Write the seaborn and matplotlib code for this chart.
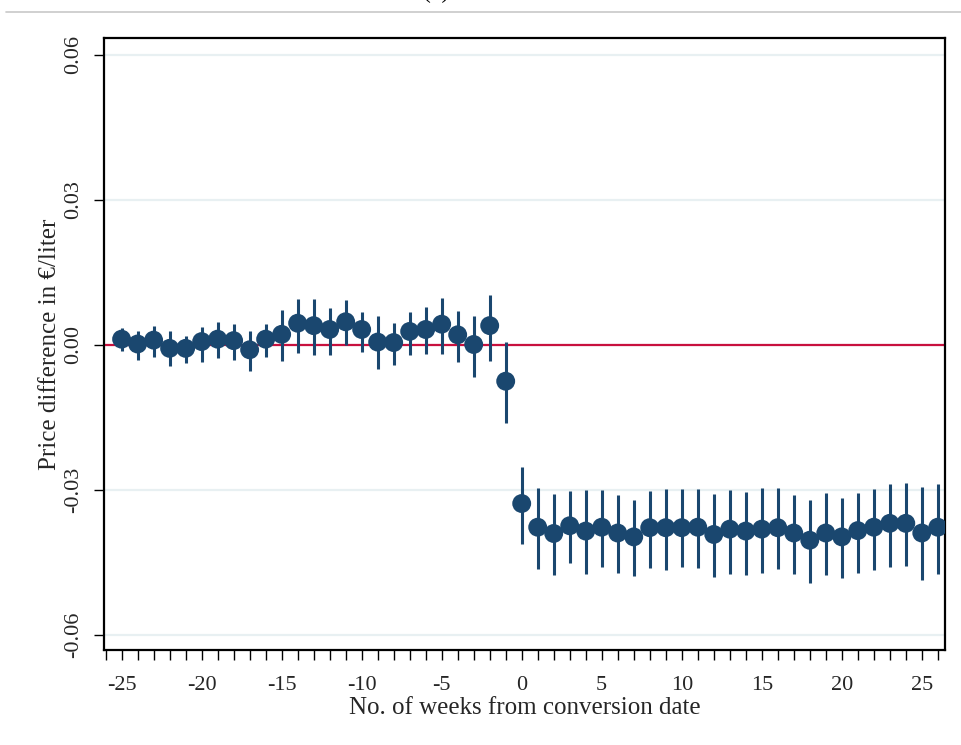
import numpy as np
import pandas as pd
import matplotlib
matplotlib.use("Agg")
import matplotlib.pyplot as plt
import seaborn as sns
from matplotlib.lines import Line2D

weeks = list(range(-25, 27))
estimate = [0.0012, 0.0002, 0.0010, -0.0007, -0.0007, 0.0007, 0.0012, 0.0009, -0.0010, 0.0012,
            0.0022, 0.0045, 0.0040, 0.0032, 0.0048, 0.0032, 0.0006, 0.0005, 0.0028, 0.0032,
            0.0043, 0.0021, 0.0001, 0.0040, -0.0075,
            -0.0328, -0.0377, -0.0390, -0.0374, -0.0385, -0.0377, -0.0389, -0.0397, -0.0378, -0.0378,
            -0.0378, -0.0377, -0.0392, -0.0381, -0.0385, -0.0381, -0.0378, -0.0389, -0.0404, -0.0389,
            -0.0397, -0.0384, -0.0377, -0.0369, -0.0369, -0.0389, -0.0377]
ci_upper = [0.0035, 0.0028, 0.0040, 0.0028, 0.0019, 0.0038, 0.0048, 0.0043, 0.0028, 0.0043,
            0.0072, 0.0095, 0.0095, 0.0076, 0.0092, 0.0069, 0.0059, 0.0045, 0.0068, 0.0079,
            0.0097, 0.0071, 0.0059, 0.0103, 0.0007,
            -0.0253, -0.0295, -0.0308, -0.0302, -0.0299, -0.0299, -0.0311, -0.0321, -0.0302, -0.0297,
            -0.0298, -0.0298, -0.0308, -0.0300, -0.0304, -0.0295, -0.0295, -0.0311, -0.0321, -0.0306,
            -0.0317, -0.0307, -0.0298, -0.0288, -0.0285, -0.0293, -0.0288]
ci_lower = [-0.0012, -0.0031, -0.0024, -0.0043, -0.0038, -0.0035, -0.0026, -0.0031, -0.0053, -0.0024,
            -0.0033, -0.0016, -0.0021, -0.0021, 0.0000, -0.0014, -0.0050, -0.0041, -0.0021, -0.0019,
            -0.0019, -0.0035, -0.0066, -0.0033, -0.0162,
            -0.0412, -0.0464, -0.0475, -0.0452, -0.0474, -0.0459, -0.0471, -0.0478, -0.0462, -0.0466,
            -0.0460, -0.0462, -0.0480, -0.0473, -0.0475, -0.0471, -0.0464, -0.0473, -0.0492, -0.0476,
            -0.0482, -0.0471, -0.0466, -0.0459, -0.0457, -0.0486, -0.0473]

y_ticks = [-0.06, -0.03, 0.00, 0.03, 0.06]
y_ticklabels = ["-0.06", "-0.03", "0.00", "0.03", "0.06"]
x_ticks = [-25, -20, -15, -10, -5, 0, 5, 10, 15, 20, 25]
x_ticklabels = ["-25", "-20", "-15", "-10", "-5", "0", "5", "10", "15", "20", "25"]

df = pd.DataFrame({"week": weeks, "est": estimate, "lo": ci_lower, "hi": ci_upper})

sns.set_theme(style="white")
plt.rcParams["font.family"] = ["Liberation Serif", "DejaVu Serif"]

navy = "#1a476f"
fig = plt.figure(figsize=(9.62, 7.45), dpi=100)
ax = fig.add_axes([104/962, 1-650/745, (945-104)/962, (650-38)/745])

# outer graph frame (top edge only visible)
fig.lines.append(Line2D([6/962, 1.0], [1-12/745, 1-12/745], transform=fig.transFigure,
                        color="#c8c8c8", linewidth=1.2))
fig.text(436/962, 1 + 2/745, "(a)", ha="center", va="baseline", fontsize=17, color="black")

for y in y_ticks:
    ax.axhline(y, color="#e8f0f2", linewidth=1.6, zorder=0)
ax.axhline(0, color="#c8103e", linewidth=1.6, zorder=1)

ax.vlines(df["week"], df["lo"], df["hi"], color=navy, linewidth=2.2, zorder=2)
sns.scatterplot(data=df, x="week", y="est", ax=ax, color=navy, s=185, edgecolor="none",
                zorder=3, legend=False)

ax.set_xlim(-26.1, 26.45)
ax.set_ylim(-0.0631, 0.0635)
ax.set_yticks(y_ticks)
ax.set_yticklabels(y_ticklabels, rotation=90, va="center", fontsize=16)
ax.set_xticks(x_ticks)
ax.set_xticklabels(x_ticklabels, fontsize=16)
ax.set_xticks(list(range(-26, 27)), minor=True)
ax.tick_params(axis="both", which="both", direction="out", length=7, width=1.0, color="black",
               bottom=True, left=True)
ax.tick_params(axis="x", which="major", pad=12)
ax.tick_params(axis="y", which="major", pad=8)
ax.set_xlabel("No. of weeks from conversion date", fontsize=18, labelpad=1)
ax.set_ylabel("Price difference in €/liter", fontsize=18, labelpad=2)
for s in ax.spines.values():
    s.set_color("black")
    s.set_linewidth(1.6)

fig.savefig("out.png", dpi=100)
